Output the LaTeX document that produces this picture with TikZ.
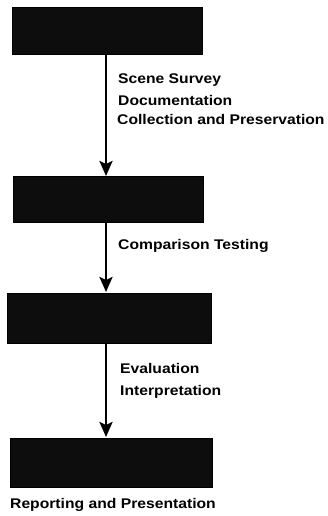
\documentclass[tikz,border=0pt]{standalone}
\usepackage{fontspec}
\setmainfont{Liberation Sans}[FakeStretch=1.12]
\usetikzlibrary{arrows.meta}
\begin{document}
\begin{tikzpicture}[x=1pt,y=-1pt,
  stagebox/.style={fill=black!95,draw=black,inner sep=0pt},
  flow/.style={line width=2.6pt,-{Stealth[length=15pt,width=13pt,inset=3pt]}},
  lbl/.style={font=\bfseries\fontsize{14}{16}\selectfont,anchor=west,inner sep=0pt}]
\useasboundingbox (0,0) rectangle (328,516);
\node[stagebox,minimum width=190pt,minimum height=47pt] (b1) at (107,30.5) {};
\node[stagebox,minimum width=190pt,minimum height=46pt] (b2) at (108,199) {};
\node[stagebox,minimum width=204pt,minimum height=50pt] (b3) at (109,318) {};
\node[stagebox,minimum width=202pt,minimum height=49pt] (b4) at (111,462.5) {};
\draw[flow] (b1.south -| 106,0) -- (106,176);
\draw[flow] (b2.south -| 106,0) -- (106,292);
\draw[flow] (b3.south -| 106,0) -- (106,437);
\node[lbl] (s1) at (118,80) {Scene Survey};
\node[lbl] (s2) at (118,100) {Documentation};
\node[lbl] (s3) at (117,119) {Collection and Preservation};
\node[lbl] (c1) at (118,246) {Comparison Testing};
\node[lbl] (e1) at (120,368) {Evaluation};
\node[lbl] (e2) at (120,392) {Interpretation};
\node[lbl] (r1) at (10,505) {Reporting and Presentation};
\end{tikzpicture}
\end{document}
